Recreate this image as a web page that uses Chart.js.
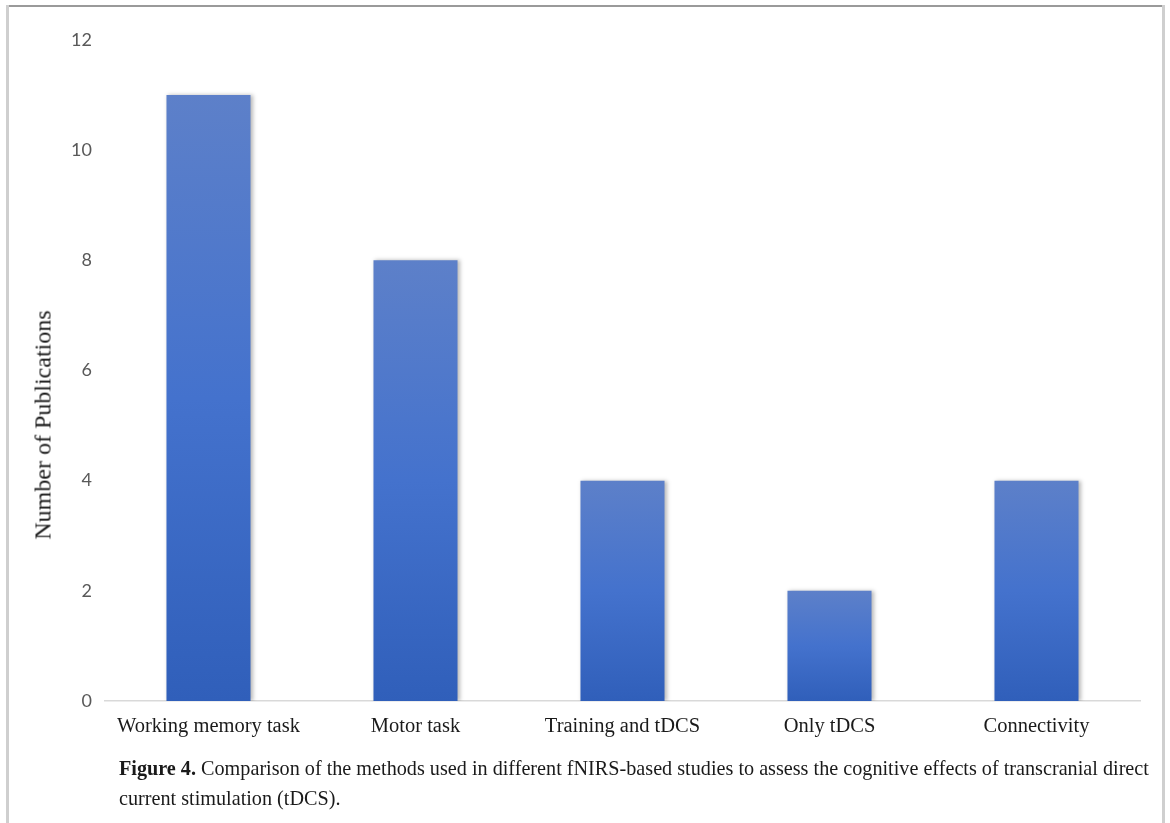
<!DOCTYPE html>
<html>
<head>
<meta charset="utf-8">
<script src="https://cdn.jsdelivr.net/npm/chart.js@4/dist/chart.umd.min.js"></script>
<style>
  html, body { margin: 0; padding: 0; background: #fff; }
  #frame { position: relative; width: 1170px; height: 823px; overflow: hidden; }
  #frame .edge-top { position: absolute; left: 7px; top: 5px; width: 1157px; height: 2px; background: #9a9a9a; }
  #frame .edge-left { position: absolute; left: 6px; top: 5px; width: 3px; height: 818px; background: #cfcfcf; }
  #frame .edge-right { position: absolute; left: 1162px; top: 5px; width: 3px; height: 818px; background: #cfcfcf; }
  #chart { position: absolute; left: 0; top: 0; }
  #ytitle { position: absolute; left: 43px; top: 425px; transform: translate(-50%, -50%) rotate(-90deg);
            white-space: nowrap; font-family: "Liberation Serif", serif; font-size: 24px; color: #1a1a1a; }
  #caption { position: absolute; left: 119px; top: 753px; width: 1045px;
             font-family: "Liberation Serif", "DejaVu Serif", serif; font-size: 20.2px;
             line-height: 30px; color: #1a1a1a; }
  #caption b { font-weight: bold; }
</style>
</head>
<body>
<div id="frame">
  <div class="edge-top"></div>
  <div class="edge-left"></div>
  <div class="edge-right"></div>
  <canvas id="chart" width="1170" height="823"></canvas>
  <div id="ytitle">Number of Publications</div>
  <div id="caption"><b>Figure 4.</b> Comparison of the methods used in different fNIRS-based studies to assess the cognitive effects of transcranial direct current stimulation (tDCS).</div>
</div>
<script>
// Study method categories and publication counts
const categories = ["Working memory task", "Motor task", "Training and tDCS", "Only tDCS", "Connectivity"];
const publications = [11, 8, 4, 2, 4];
const yTicks = [0, 2, 4, 6, 8, 10, 12];

// Vertical gradient for each bar, light at the top, deeper blue at the base
function barGradient(ctx) {
  const chart = ctx.chart;
  if (!chart.chartArea || ctx.type !== 'data') return '#4470cc';
  const y = chart.scales.y;
  const top = y.getPixelForValue(publications[ctx.dataIndex]);
  const base = y.getPixelForValue(0);
  const g = chart.ctx.createLinearGradient(0, top, 0, base);
  g.addColorStop(0, '#5d80c9');
  g.addColorStop(0.5, '#4472cd');
  g.addColorStop(1, '#305fba');
  return g;
}

// Soft drop shadow behind the bars
const barShadow = {
  id: 'barShadow',
  beforeDatasetDraw(chart) {
    const c = chart.ctx;
    c.save();
    c.shadowColor = 'rgba(0,0,0,0.28)';
    c.shadowBlur = 4;
    c.shadowOffsetX = 2;
    c.shadowOffsetY = 0;
  },
  afterDatasetDraw(chart) {
    chart.ctx.restore();
  }
};

new Chart(document.getElementById('chart'), {
  type: 'bar',
  data: {
    labels: categories,
    datasets: [{
      data: publications,
      backgroundColor: barGradient,
      borderWidth: 0,
      categoryPercentage: 1,
      barPercentage: 0.406
    }]
  },
  options: {
    responsive: false,
    animation: false,
    layout: { padding: { left: 8, right: 30, top: 40, bottom: 82 } },
    plugins: { legend: { display: false }, tooltip: { enabled: false } },
    scales: {
      x: {
        grid: { display: false, drawTicks: false },
        border: { display: true, color: '#d9d9d9', width: 1.5 },
        ticks: {
          color: '#1a1a1a', padding: 13,
          font: { family: '"Liberation Serif", serif', size: 20.5 }
        },
        afterFit(scale) { scale.height = 40; }
      },
      y: {
        min: 0, max: 12,
        afterBuildTicks(scale) { scale.ticks = yTicks.map(v => ({ value: v })); },
        grid: { display: false, drawTicks: false },
        border: { display: false },
        ticks: {
          color: '#595959', padding: 13,
          font: { family: 'Lato, "Open Sans", sans-serif', size: 18 }
        },
        afterFit(scale) { scale.width = 97; }
      }
    }
  },
  plugins: [barShadow]
});
</script>
</body>
</html>
